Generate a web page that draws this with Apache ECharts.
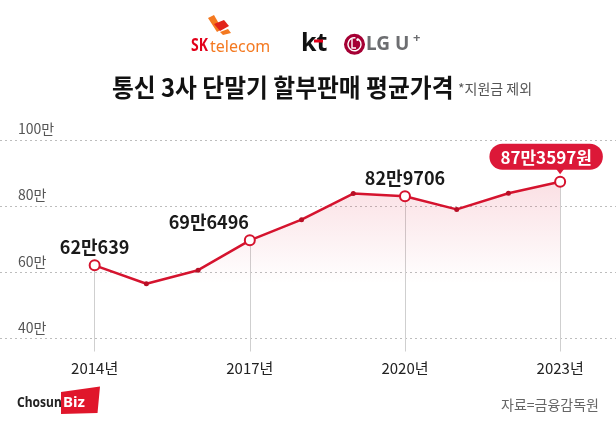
<!DOCTYPE html>
<html><head><meta charset="utf-8">
<script src="https://cdn.jsdelivr.net/npm/echarts@6/dist/echarts.min.js"></script>
<style>html,body{margin:0;padding:0;background:#fff}#c{width:616px;height:423px}</style>
</head><body><div id="c"></div>
<script>
// ---- data ----
const years = [2014, 2015, 2016, 2017, 2018, 2019, 2020, 2021, 2022, 2023];
const prices = [62.0639, 56.5, 60.6, 69.6496, 75.9, 83.8, 82.9706, 79.0, 83.9, 87.3597]; // 만원
const highlightYears = [2014, 2017, 2020, 2023];
const xTickLabels = [2014, 2017, 2020, 2023];
const yTickValues = [40, 60, 80, 100];

const RED = '#d5132e';
const FONT = '"Noto Sans CJK KR", "Noto Sans", sans-serif';
const LATIN = '"Noto Sans", sans-serif';

function fmtWon(v) {
  const w = Math.round(v * 10000);
  return Math.floor(w / 10000) + '만' + (w % 10000);
}

const lastYear = years[years.length - 1];
const seriesData = years.map((y, i) => {
  const hi = highlightYears.includes(y);
  const item = {
    value: [y, prices[i]],
    symbolSize: hi ? 10 : 5,
    itemStyle: hi ? { color: '#fff', borderColor: RED, borderWidth: 2 } : { color: '#b80f26', borderWidth: 0 }
  };
  if (hi) {
    if (y === lastYear) {
      item.label = {
        show: true, position: 'top', distance: 6, offset: [-14, 0],
        formatter: () => fmtWon(prices[i]) + '원',
        color: '#fff', fontSize: 17, fontWeight: 'bold', fontFamily: FONT,
        backgroundColor: '#dc1838', borderRadius: 13, padding: [4, 11, 3, 11], lineHeight: 19
      };
    } else {
      item.label = {
        show: true, position: 'top', distance: 3,
        offset: y === 2017 ? [-41, 0] : [0, 0],
        formatter: () => fmtWon(prices[i]),
        color: '#1a1a1a', fontSize: 18, fontWeight: 'bold', fontFamily: FONT
      };
    }
  }
  return item;
});

const yMin = 36;
const dropLines = highlightYears.map(y => {
  const v = prices[years.indexOf(y)];
  return [{ coord: [y, v] }, { coord: [y, yMin] }];
});

const chart = echarts.init(document.getElementById('c'), null, { renderer: 'canvas' });
chart.setOption({
  animation: false,
  backgroundColor: '#fff',
  grid: { left: 0, right: 0, top: 140, bottom: 71.5, containLabel: false },
  xAxis: {
    type: 'value', min: 2012.17, max: 2024.08,
    axisLine: { show: false }, axisTick: { show: false, customValues: xTickLabels },
    splitLine: { show: false },
    axisLabel: {
      customValues: xTickLabels, formatter: v => v + '년', margin: 9,
      color: '#222', fontSize: 15, fontFamily: FONT
    }
  },
  yAxis: {
    type: 'value', min: yMin, max: 100,
    axisLine: { show: false },
    axisTick: { show: false, customValues: yTickValues },
    splitLine: { show: true, lineStyle: { color: '#bdbdbd', width: 1, type: [2, 3] } },
    axisLabel: {
      inside: true, customValues: yTickValues, formatter: v => v + '만',
      margin: 18, verticalAlign: 'bottom', padding: [0, 0, 4, 0],
      color: '#555', fontSize: 14, fontFamily: FONT
    }
  },
  series: [{
    type: 'line',
    data: seriesData,
    symbol: 'circle',
    lineStyle: { color: RED, width: 2.5 },
    itemStyle: { color: RED },
    z: 3,
    areaStyle: {
      origin: 'start',
      color: new echarts.graphic.LinearGradient(0, 0, 0, 1, [
        { offset: 0, color: 'rgba(222,30,60,0.2)' },
        { offset: 0.6, color: 'rgba(222,30,60,0.0)' },
        { offset: 1, color: 'rgba(222,30,60,0)' }
      ])
    },
    markLine: {
      silent: true, symbol: 'none', label: { show: false },
      lineStyle: { color: '#cfcfcf', width: 1, type: 'solid' },
      z: 1,
      data: dropLines
    },
    markPoint: {
      silent: true,
      symbol: 'triangle', symbolRotate: 180, symbolSize: [9, 6], symbolOffset: [0, -10.5],
      itemStyle: { color: '#dc1838' }, label: { show: false },
      data: [{ coord: [lastYear, prices[prices.length - 1]] }]
    }
  }],
  graphic: [
    // SK telecom logo
    { type: 'polygon', shape: { points: [[208, 18], [214, 15], [222, 29], [217, 32]] }, style: { fill: '#f47920' } },
    { type: 'polygon', shape: { points: [[214, 24], [224, 20], [229, 26], [220, 31]] }, style: { fill: '#e2231a' } },
    { type: 'polygon', shape: { points: [[220, 32], [228, 29], [231, 33], [223, 35]] }, style: { fill: '#f47920' } },
    { type: 'text', x: 191, y: 46.5, scaleX: 0.82, style: { text: 'SK', x: 0, y: 0, fill: '#e2001a', fontSize: 17, fontWeight: 'bold', fontFamily: LATIN, verticalAlign: 'middle' } },
    { type: 'text', style: { text: 'telecom', x: 210, y: 47.5, fill: '#f47920', fontSize: 16, fontFamily: LATIN, verticalAlign: 'middle' } },
    // kt
    { type: 'text', style: { text: 'kt', x: 301, y: 44, fill: '#111', fontSize: 25, fontWeight: 'bold', fontFamily: LATIN, verticalAlign: 'middle' } },
    { type: 'rect', shape: { x: 314, y: 39.5, width: 9, height: 3 }, style: { fill: '#e2001a' } },
    // LG U+
    { type: 'circle', shape: { cx: 354.5, cy: 44.3, r: 10.5 }, style: { fill: '#a50034' } },
    { type: 'arc', shape: { cx: 354.5, cy: 44.3, r: 6.5, startAngle: -Math.PI * 0.35, endAngle: Math.PI * 1.55 }, style: { stroke: '#fff', lineWidth: 1.4, fill: null } },
    { type: 'polyline', shape: { points: [[352, 39], [352, 48], [356, 48]] }, style: { stroke: '#fff', lineWidth: 1.4, fill: null } },
    { type: 'circle', shape: { cx: 357.5, cy: 39.8, r: 1.2 }, style: { fill: '#fff' } },
    { type: 'text', style: { text: 'LG U', x: 366, y: 45, fill: '#6d6e71', fontSize: 19, fontWeight: 'bold', fontFamily: LATIN, verticalAlign: 'middle' } },
    { type: 'text', style: { text: '+', x: 413, y: 38, fill: '#6d6e71', fontSize: 13, fontWeight: 'bold', fontFamily: LATIN, verticalAlign: 'middle' } },
    // title
    { type: 'text', x: 112, y: 87, scaleX: 0.95, style: { text: '통신 3사 단말기 할부판매 평균가격', x: 0, y: 0, fill: '#111', fontSize: 25, fontWeight: 'bold', fontFamily: FONT, verticalAlign: 'middle' } },
    { type: 'text', style: { text: '*지원금 제외', x: 458, y: 89, fill: '#555', fontSize: 14, fontFamily: FONT, verticalAlign: 'middle' } },
    // footer
    { type: 'text', x: 17, y: 403, scaleX: 0.86, style: { text: 'Chosun', x: 0, y: 0, fill: '#222', fontSize: 14, fontWeight: 'bold', fontFamily: LATIN, verticalAlign: 'middle' } },
    { type: 'polygon', shape: { points: [[61, 392], [100, 386.5], [97.5, 413], [61, 414]] }, style: { fill: '#e0162b' } },
    { type: 'text', style: { text: 'Biz', x: 63, y: 403, fill: '#fff', fontSize: 15, fontWeight: 'bold', fontFamily: LATIN, verticalAlign: 'middle' } },
    { type: 'text', style: { text: '자료=금융감독원', x: 599, y: 405, fill: '#666', fontSize: 14, fontFamily: FONT, align: 'right', verticalAlign: 'middle' } }
  ]
});
</script></body></html>
